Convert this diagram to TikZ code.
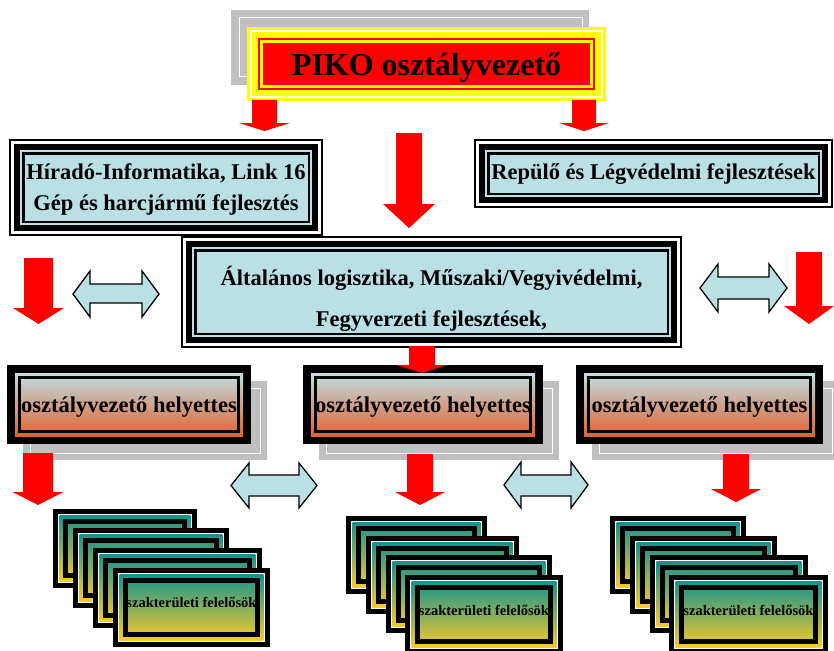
\documentclass[tikz,border=0pt]{standalone}
\usepackage{fontspec}
\setmainfont{Liberation Serif}
\definecolor{lb}{RGB}{187,224,227}
\definecolor{shgray}{RGB}{192,192,192}
\definecolor{htop}{RGB}{190,224,228}
\definecolor{hmid}{RGB}{214,162,148}
\definecolor{hbot}{RGB}{226,98,48}
\definecolor{ctop}{RGB}{20,148,143}
\definecolor{cmid}{RGB}{172,168,114}
\definecolor{cbot}{RGB}{250,202,42}
\definecolor{yel}{RGB}{255,255,0}
\newcommand{\redarrow}[6]{% xc, top, shaft half, head half, head base, tip
  \fill[red] ({#1-#3},#2) -- ({#1+#3},#2) -- ({#1+#3},#5) -- ({#1+#4},#5) -- (#1,#6) -- ({#1-#4},#5) -- ({#1-#3},#5) -- cycle;}
\newcommand{\dblarrow}[7]{% x1,y1,x2,y2,shaft top,shaft bottom,head length
  \filldraw[dblarr] (#1,{(#2+#4)/2}) -- ({#1+#7},#2) -- ({#1+#7},#5) -- ({#3-#7},#5) -- ({#3-#7},#2) -- (#3,{(#2+#4)/2}) -- ({#3-#7},#4) -- ({#3-#7},#6) -- ({#1+#7},#6) -- ({#1+#7},#4) -- cycle;}
\newcommand{\bluebox}[4]{%
  \fill[black] (#1,#2) rectangle (#3,#4);
  \fill[white] ({#1+2},{#2+2}) rectangle ({#3-2},{#4-2});
  \fill[black] ({#1+5},{#2+5}) rectangle ({#3-5},{#4-5});
  \fill[lb] ({#1+11},{#2+11}) rectangle ({#3-11},{#4-11});
  \draw[black,line width=2.5pt] ({#1+14.25},{#2+14.25}) rectangle ({#3-14.25},{#4-14.25});}
\newcommand{\helybox}[4]{%
  \fill[shgray] ({#1+16},{#2+16}) rectangle ({#3+16},{#4+16});
  \draw[white,line width=1pt] ({#1+23},{#2+23}) rectangle ({#3+9},{#4+9});
  \fill[black] (#1,#2) rectangle (#3,#4);
  \shade[top color=htop,middle color=hmid,bottom color=hbot] ({#1+8},{#2+8}) rectangle ({#3-8},{#4-8});
  \draw[black,line width=2.5pt] ({#1+12.5},{#2+12.5}) rectangle ({#3-12.5},{#4-12.5});}
\newcommand{\card}[4]{%
  \fill[black] (#1,#2) rectangle (#3,#4);
  \fill[white] ({#1+5},{#2+5}) rectangle ({#3-5},{#4-5});
  \shade[top color=ctop,middle color=cmid,bottom color=cbot] ({#1+6.7},{#2+6.7}) rectangle ({#3-6.7},{#4-6.7});
  \draw[black,line width=5pt] ({#1+12.5},{#2+12.5}) rectangle ({#3-12.5},{#4-12.5});}
\tikzset{
  dblarr/.style={fill=lb,draw=black,line width=1.3pt,line join=miter},
  bigtxt/.style={anchor=base,inner sep=0pt,font=\fontsize{32}{36}\selectfont\bfseries},
  midtxt/.style={anchor=base,inner sep=0pt,font=\fontsize{22.5}{26}\selectfont\bfseries},
  smalltxt/.style={anchor=base,inner sep=0pt,font=\fontsize{14.5}{17}\selectfont\bfseries}
}
\begin{document}
\begin{tikzpicture}[x=1pt,y=-1pt]
\useasboundingbox (0,0) rectangle (834,650);
% top box
\fill[shgray] (231,10) rectangle (589,85);
\draw[white,line width=1pt] (239,18) rectangle (582,77);
\fill[yel] (247,27) rectangle (606,101);
\fill[white] (250,30) rectangle (603,98);
\fill[yel] (252,32) rectangle (601,96);
\fill[red] (258,38) rectangle (595,90);
\draw[yel,line width=2.7pt] (261.65,41.65) rectangle (591.35,86.35);
\node[bigtxt] (piko) at (426.5,76) {PIKO osztályvezető};
% arrows from top
\redarrow{264.5}{100}{12.5}{25.5}{123}{131}
\redarrow{584}{100}{12}{25}{123}{131}
\redarrow{409}{133}{13}{26}{204}{228}
% second row
\bluebox{9}{139}{323}{236}
\node[midtxt] (hir1) at (166,179.5) {Híradó-Informatika, Link 16};
\node[midtxt] (hir2) at (166,210) {Gép és harcjármű fejlesztés};
\bluebox{474}{139}{833}{208}
\node[midtxt] (rep) at (653.5,179.5) {Repülő és Légvédelmi fejlesztések};
% center box
\bluebox{181}{236}{682}{348}
\node[midtxt] (alt1) at (431.5,285) {Általános logisztika, Műszaki/Vegyivédelmi,};
\node[midtxt] (alt2) at (431.5,326) {Fegyverzeti fejlesztések,};
% side arrows
\redarrow{38.5}{258}{14.5}{25.5}{308}{324}
\redarrow{809}{252}{13}{25}{306}{324}
\dblarrow{73}{271}{159}{317}{284}{303}{17}
\dblarrow{700}{264}{787}{312}{277}{299}{18}
% helyettes row
\helybox{7}{365}{251}{444}
\helybox{303}{365}{543}{444}
\helybox{576}{365}{823}{444}
\node[midtxt] (hely1) at (129,412) {osztályvezető helyettes};
\node[midtxt] (hely2) at (423,412) {osztályvezető helyettes};
\node[midtxt] (hely3) at (699.5,412) {osztályvezető helyettes};
\redarrow{422}{346}{13}{25.5}{365}{373}
\redarrow{38}{453}{15}{25.5}{492}{505}
\redarrow{420}{454}{13}{25}{492}{505}
\redarrow{736}{454}{13}{25}{489}{502}
\dblarrow{231}{463}{317}{508}{475}{496}{18}
\dblarrow{504}{462}{588}{508}{475}{496}{17}
% card stacks
\card{53}{509}{197}{588}
\card{73}{528}{229}{608}
\card{93}{548}{262}{628}
\card{113}{568}{270}{647}
\node[smalltxt] (sz1) at (191.5,607) {szakterületi felelősök};
\card{346}{516}{487}{594}
\card{366}{536}{519}{614}
\card{386}{555}{552}{633}
\card{405}{575}{563}{654}
\node[smalltxt] (sz2) at (484,615) {szakterületi felelősök};
\card{610}{516}{746}{594}
\card{630}{536}{777}{614}
\card{650}{555}{808}{633}
\card{669}{575}{828}{654}
\node[smalltxt] (sz3) at (748.5,615) {szakterületi felelősök};
\end{tikzpicture}
\end{document}
